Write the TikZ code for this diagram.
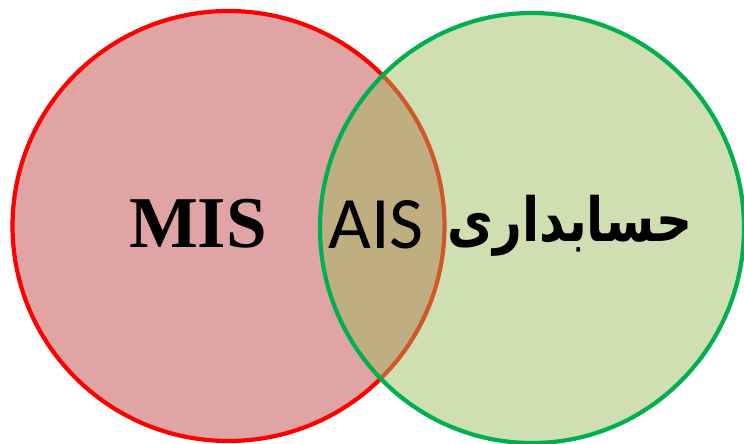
\documentclass[tikz,border=0pt]{standalone}
\usepackage{fontspec}
\setmainfont{Liberation Serif}
\newfontfamily\calib{Carlito}
\newfontfamily\farsi[Script=Arabic]{DejaVu Sans}
\TeXXeTstate=1
\definecolor{misfill}{RGB}{224,164,164}
\definecolor{accfill}{RGB}{155,187,89}
\definecolor{accline}{RGB}{0,176,80}
\usetikzlibrary{positioning}

\begin{document}
\begin{tikzpicture}[x=1pt,y=-1pt]
    \useasboundingbox (0,0) rectangle (744,444);
    \begin{scope}[line width=4.2pt]
        % the two sets
        \draw [draw=red, fill=misfill] (228.5,226) ellipse [x radius=216, y radius=215];
        \fill [accfill, fill opacity=0.47] (532,228) ellipse [x radius=212, y radius=215];
        \draw [accline] (532,228) ellipse [x radius=212, y radius=215];
    \end{scope}

    \node (mis) [anchor=base, inner sep=0pt] at (198,247)
        {\fontsize{73}{80}\selectfont\bfseries MIS};
    \node (ais) [anchor=base, inner sep=0pt] at (376,248)
        {\fontsize{74}{80}\selectfont\calib AIS};
    \node (hes) [anchor=base, inner sep=0pt] at (570,241)
        {\scalebox{1}[1.22]{\fontsize{50}{56}\selectfont\farsi\bfseries\beginR حسابداری\endR}};
\end{tikzpicture}
\end{document}
